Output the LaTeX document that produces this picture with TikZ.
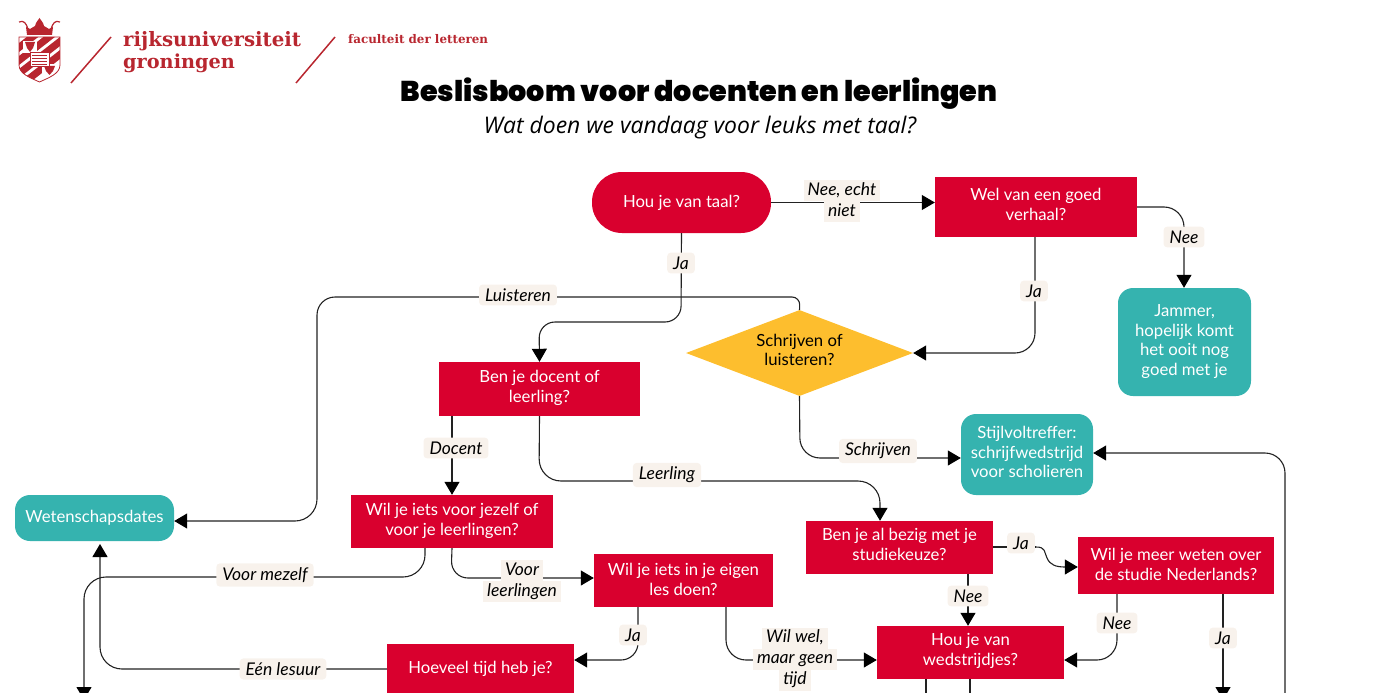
\documentclass[tikz,border=0pt]{standalone}
\usepackage{fontspec}
\setmainfont{Lato}
\newfontfamily\titlefont{Poppins Black}
\newfontfamily\subfont{Open Sans}
\newfontfamily\logofont{DejaVu Serif}
\usetikzlibrary{arrows.meta,shapes.geometric,calc}
\definecolor{rugred}{HTML}{D9002E}
\definecolor{rugteal}{HTML}{35B3AF}
\definecolor{rugyellow}{HTML}{FDBE2E}
\definecolor{labbg}{HTML}{F8F2EC}
\definecolor{logored}{HTML}{B8262F}
\definecolor{linec}{HTML}{222222}
\newcommand{\hlbox}[1]{{\setlength{\fboxsep}{0pt}\colorbox{labbg}{\kern4pt\vrule width0pt height 15pt depth 6pt #1\kern4pt}}}
\tikzset{
  x=1pt,y=-1pt,
  basefont/.style={font=\fontsize{16.7}{19.7}\selectfont,align=center,inner sep=0pt},
  redbox/.style={basefont,fill=rugred,text=white,minimum width=#1},
  tealbox/.style={basefont,fill=rugteal,text=white,rounded corners=15pt,minimum width=#1},
  conn/.style={draw=linec,line width=1.1pt},
  arrow/.style={conn,-{Triangle[length=13pt,width=15pt,black]}},
  lab/.style={font=\fontsize{17.5}{21}\selectfont\itshape,align=center,inner sep=0pt,text=black},
  pill/.style={lab,fill=labbg,rounded corners=3.5pt,inner xsep=6pt,inner ysep=4pt},
}
\begin{document}
\begin{tikzpicture}
\useasboundingbox (0,0) rectangle (1376,693);
\clip (0,0) rectangle (1376,693);
% logo
\fill[logored] (26,27) -- (30,29) -- (35,26) -- (36,23) -- (39.5,18) -- (43,23) -- (44,26) -- (49,29) -- (53,27) -- (52,35) -- (27,35) -- cycle;
\draw[logored,line width=1.2pt] (19,22) .. controls (24,20) and (26,23) .. (28,29);
\draw[logored,line width=1.2pt] (60,22) .. controls (55,20) and (53,23) .. (51,29);
\begin{scope}
\clip (19,37) -- (60,37) -- (60,65) .. controls (60,74) and (48,78) .. (39.5,82) .. controls (31,78) and (19,74) .. (19,65) -- cycle;
\fill[white] (18,36) rectangle (62,84);
\foreach \d in {-3,10,23,36}{
 \fill[logored] (19,38+\d+8) -- (60,38+\d-24) -- (60,38+\d-15) -- (19,38+\d+17) -- cycle;
}
\fill[white] (23,41) rectangle (37,53);
\fill[logored] (25,42) -- (35,42) -- (33,48) -- (30,52) -- (27,48) -- cycle;
\fill[white] (42,64) rectangle (57,77);
\fill[logored] (44,66) -- (55,66) -- (53,71) -- (49.5,75) -- (46,71) -- cycle;
\fill[white,draw=logored,line width=.6pt] (30,52) rectangle (49,66);
\foreach \yy in {55,58,61,64}{\draw[logored,line width=.5pt] (32,\yy) -- (47,\yy);}
\end{scope}
\draw[logored,line width=.8pt] (19,37) -- (60,37) -- (60,65) .. controls (60,74) and (48,78) .. (39.5,82) .. controls (31,78) and (19,74) .. (19,65) -- cycle;
\coordinate (s1a) at (71,83); \coordinate (s1b) at (111,37);
\coordinate (s2a) at (296,83); \coordinate (s2b) at (335,37);
\draw[logored,line width=1.5pt] (s1a) -- (s1b);
\draw[logored,line width=1.5pt] (s2a) -- (s2b);
\node[anchor=base west,inner sep=0pt,text=logored,font=\logofont\bfseries\fontsize{19.8}{22}\selectfont] (rug1) at (123,47) {rijksuniversiteit};
\node[anchor=base west,inner sep=0pt,text=logored,font=\logofont\bfseries\fontsize{19.3}{22}\selectfont] (rug2) at (123,68.5) {groningen};
\node[anchor=base west,inner sep=0pt,text=logored,font=\logofont\bfseries\fontsize{11.9}{14}\selectfont] (fac) at (348,43.5) {faculteit der letteren};
% titles
\node[inner sep=0pt,font=\titlefont\fontsize{28.6}{30}\selectfont] (title) at (699,94) {Beslisboom voor docenten en leerlingen};
\node[inner sep=0pt,font=\subfont\itshape\fontsize{22.9}{26}\selectfont] (sub) at (700,128) {Wat doen we vandaag voor leuks met taal?};
% nodes
\node[redbox=179pt,minimum height=61pt,rounded corners=30pt] (taal) at (681.5,202.5) {Hou je van taal?};
\node[redbox=202pt,minimum height=60pt,text depth=5pt] (wel) at (1036,207) {Wel van een goed\\verhaal?};
\node[tealbox=133pt,minimum height=108pt,text depth=4pt] (jammer) at (1184.5,342) {Jammer,\\hopelijk komt\\het ooit nog\\goed met je};
\node[diamond,aspect=2.64,fill=rugyellow,basefont,text=black,minimum width=227pt,minimum height=86pt,inner sep=0pt] (keuze) at (799.5,353) {};
\node[basefont,text=black] (keuzetext) at (799.5,350) {Schrijven of\\luisteren?};
\node[redbox=201pt,minimum height=54pt,text depth=6pt] (docent) at (539.5,389) {Ben je docent of\\leerling?};
\node[tealbox=132pt,minimum height=81pt,text depth=5pt] (stijl) at (1027,454.5) {Stijlvoltreffer:\\schrijfwedstrijd\\voor scholieren};
\node[tealbox=159pt,minimum height=46pt] (dates) at (94.5,518) {Wetenschapsdates};
\node[redbox=202pt,minimum height=53pt,text depth=4pt] (zelf) at (452,521.5) {Wil je iets voor jezelf of\\voor je leerlingen?};
\node[redbox=179pt,minimum height=53pt,text depth=3pt] (eigen) at (683.5,580.5) {Wil je iets in je eigen\\les doen?};
\node[redbox=187pt,minimum height=53pt,text depth=6pt] (keuzest) at (899.5,547.5) {Ben je al bezig met je\\studiekeuze?};
\node[redbox=196pt,minimum height=57pt,text depth=2pt] (meer) at (1176,565.5) {Wil je meer weten over\\de studie Nederlands?};
\node[redbox=187pt,minimum height=53pt,text depth=6pt] (wed) at (970.5,652.5) {Hou je van\\wedstrijdjes?};
\node[redbox=187pt,minimum height=58pt] (tijd) at (480.5,673) {};
\node[basefont,text=white] (tijdtext) at (480.5,669) {Hoeveel tijd heb je?};
% off-page ends
\coordinate (offA) at (84,700);
\coordinate (offB) at (1223,700);
\coordinate (offC) at (1285,700);
\coordinate (offD) at (926,700);
\coordinate (offE) at (970,700);
% connectors
\draw[arrow] (taal.east) -- (wel.west |- taal.east);
\draw[arrow,rounded corners=20pt] (wel.east) -- (1184,207) -- (jammer.north -| 1184,0);
\draw[arrow,rounded corners=20pt] (1035,237) -- (1035,353) -- (keuze.east);
\draw[arrow,rounded corners=16pt] (taal.south) -- (681,322) -- (539,322) -- (docent.north);
\draw[arrow,rounded corners=8pt] (keuze.north) -- (800,297) [rounded corners=18pt] -- (317,297) [rounded corners=22pt] -- (317,521) -- (dates.east |- 0,521);
\draw[arrow,rounded corners=20pt] (keuze.south) -- (800,458) -- (stijl.west |- 0,458);
\draw[arrow] (docent.south -| zelf.north) -- (zelf.north);
\draw[arrow,rounded corners=22pt] (docent.south) -- (539,481) -- (880,481) -- (keuzest.north -| 880,0);
\draw[arrow,rounded corners=22pt] (zelf.south -| 425,0) -- (425,577) -- (84,577) -- (offA);
\draw[arrow,rounded corners=17pt] (zelf.south) -- (451,578) -- (eigen.west |- 0,578);
\draw[arrow,rounded corners=17pt] (eigen.south -| 638,0) -- (638,660) -- (tijd.east |- 0,660);
\draw[arrow,rounded corners=20pt] (eigen.south -| 726,0) -- (726,660) -- (wed.west |- 0,660);
\draw[arrow,rounded corners=22pt] (tijd.west |- 0,669) -- (100,669) -- (100,544);
\draw[conn] (keuzest.east |- 0,547) -- (1036,547);
\draw[arrow] (1036,547) .. controls (1046,547) and (1044,552) .. (1047,558) .. controls (1050,565) and (1056,567) .. (meer.west |- 0,567);
\draw[arrow] (keuzest.south -| 968,0) -- (wed.north -| 968,0);
\draw[arrow,rounded corners=20pt] (meer.south -| 1117,0) -- (1117,660) -- (wed.east |- 0,660);
\draw[arrow] (meer.south -| 1223,0) -- (offB);
\draw[arrow,rounded corners=20pt] (offC) -- (1285,453) -- (stijl.east |- 0,453);
\draw[conn] (wed.south -| 926,0) -- (offD);
\draw[conn] (wed.south -| 970,0) -- (offE);
% labels
\node[lab] (l1) at (842,201) {\hlbox{Nee, echt}\\\hlbox{niet}};
\node[pill] (l2) at (1184,237) {Nee};
\node[pill] (l3) at (1034,291) {Ja};
\node[pill] (l4) at (681,263) {Ja};
\node[pill] (l5) at (518,295) {Luisteren};
\node[pill] (l6) at (878,451) {Schrijven};
\node[pill] (l7) at (456,448) {Docent};
\node[pill] (l8) at (667,475) {Leerling};
\node[pill] (l9) at (265,575) {Voor mezelf};
\node[lab] (l10) at (522,581) {\hlbox{Voor}\\\hlbox{leerlingen}};
\node[pill] (l11) at (633,635) {Ja};
\node[lab] (l12) at (795,659) {\hlbox{Wil wel,}\\\hlbox{maar geen}\\\hlbox{tijd}};
\node[pill] (l13) at (283,669) {Eén lesuur};
\node[pill] (l14) at (1021,543) {Ja};
\node[pill] (l15) at (968,596) {Nee};
\node[pill] (l16) at (1117,623) {Nee};
\node[pill] (l17) at (1223,638) {Ja};
\end{tikzpicture}
\end{document}
